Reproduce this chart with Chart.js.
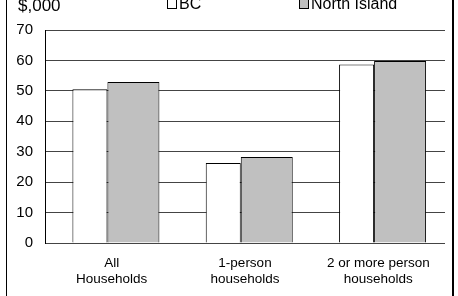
<!DOCTYPE html>
<html>
<head>
<meta charset="utf-8">
<script src="https://cdn.jsdelivr.net/npm/chart.js@4"></script>
<style>
  html, body { margin: 0; padding: 0; background: #fff; }
  #barChart { display: block; }
</style>
</head>
<body>
<canvas id="barChart" width="458" height="296"></canvas>
<script>
const categories = [['All', 'Households'], ['1-person', 'households'], ['2 or more person', 'households']];
const seriesNames = ['BC', 'North Island'];
const bcValues = [50.5, 26.3, 58.7];
const northIslandValues = [52.9, 28.3, 59.8];
const yMax = 70;
const yStep = 10;
const unitLabel = '$,000';

const fontFamily = '"Liberation Sans", Arial, sans-serif';

// frame lines, unit label and legend as in the original picture
const decorations = {
  id: 'decorations',
  afterDraw(chart) {
    const ctx = chart.ctx;
    ctx.save();
    ctx.fillStyle = '#000';
    ctx.fillRect(6, 0, 1, chart.height);
    ctx.fillRect(452, 0, 2, chart.height);

    ctx.font = '17px ' + fontFamily;
    ctx.textBaseline = 'alphabetic';
    ctx.fillText(unitLabel, 18, 11);

    ctx.font = '16px ' + fontFamily;
    const legendX = [167, 299];
    chart.data.datasets.forEach((ds, i) => {
      const x = legendX[i];
      ctx.fillStyle = ds.backgroundColor;
      ctx.fillRect(x, -1, 10, 10);
      ctx.strokeStyle = '#000';
      ctx.lineWidth = 1;
      ctx.strokeRect(x + 0.5, -0.5, 9, 9);
      ctx.fillStyle = '#000';
      ctx.fillText(ds.label, x + 12, 9);
    });
    ctx.restore();
  }
};

new Chart(document.getElementById('barChart'), {
  type: 'bar',
  data: {
    labels: categories,
    datasets: [{
      label: seriesNames[0],
      data: bcValues,
      backgroundColor: '#ffffff',
      borderColor: '#000000',
      borderWidth: 1,
      categoryPercentage: 0.6525,
      barPercentage: 0.805
    }, {
      label: seriesNames[1],
      data: northIslandValues,
      backgroundColor: '#c0c0c0',
      borderColor: '#000000',
      borderWidth: 1,
      categoryPercentage: 0.6525,
      barPercentage: 1.195
    }]
  },
  options: {
    responsive: false,
    animation: false,
    devicePixelRatio: 1,
    layout: { padding: { top: 30, right: 13, left: 0, bottom: 0 } },
    plugins: {
      legend: { display: false },
      tooltip: { enabled: false }
    },
    scales: {
      x: {
        grid: { display: false },
        border: { display: false },
        ticks: {
          color: '#000',
          font: { family: fontFamily, size: 13.5, lineHeight: 1.2 },
          padding: 4,
          maxRotation: 0,
          autoSkip: false
        },
        afterFit(scale) { scale.height = 53; }
      },
      y: {
        min: 0,
        max: yMax,
        ticks: {
          stepSize: yStep,
          color: '#000',
          font: { family: fontFamily, size: 15 },
          padding: 12
        },
        grid: { color: '#444', drawTicks: false },
        border: { display: true, color: '#000' },
        afterFit(scale) { scale.width = 45; }
      }
    }
  },
  plugins: [decorations]
});
</script>
</body>
</html>
